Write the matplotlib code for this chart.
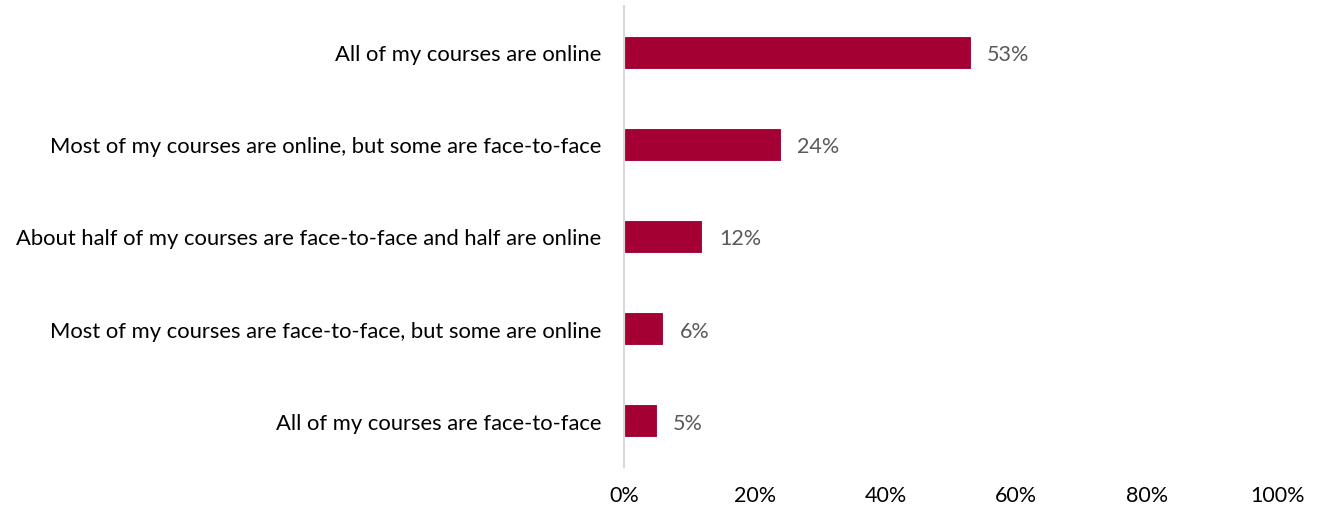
import matplotlib.pyplot as plt

categories = ['All of my courses are online',
              'Most of my courses are online, but some are face-to-face',
              'About half of my courses are face-to-face and half are online',
              'Most of my courses are face-to-face, but some are online',
              'All of my courses are face-to-face']
values = [53, 24, 12, 6, 5]
xticks = [0, 20, 40, 60, 80, 100]

plt.rcParams['font.family'] = ['Lato', 'DejaVu Sans']

fig = plt.figure(figsize=(13.17, 5.10), dpi=100)
ax = fig.add_axes([624 / 1317, 1 - 468 / 510, (1278 - 624) / 1317, (468 - 7) / 510])

ypos = list(range(len(categories)))
ax.barh(ypos, values, height=0.36, color='#A50034', edgecolor='white', linewidth=0.8)

# value labels just right of each bar
for y, v in zip(ypos, values):
    ax.text(v + 2.5, y + 0.02, f'{v}%', va='center', ha='left', fontsize=15.5, color='#595959')

ax.set_xlim(0, 100)
ax.set_ylim(len(categories) - 0.5, -0.5)
ax.set_yticks(ypos)
ax.set_yticklabels(categories, fontsize=15.8, color='#000000')
ax.set_xticks(xticks)
ax.set_xticklabels([f'{t}%' for t in xticks], fontsize=15.5, color='#000000')
ax.tick_params(axis='y', length=0, pad=16.5)
ax.tick_params(axis='x', length=0, pad=13)

for s in ['top', 'right', 'bottom']:
    ax.spines[s].set_visible(False)
ax.spines['left'].set_color('#D9D9D9')
ax.spines['left'].set_linewidth(1.5)

fig.savefig('out.png', dpi=100)
